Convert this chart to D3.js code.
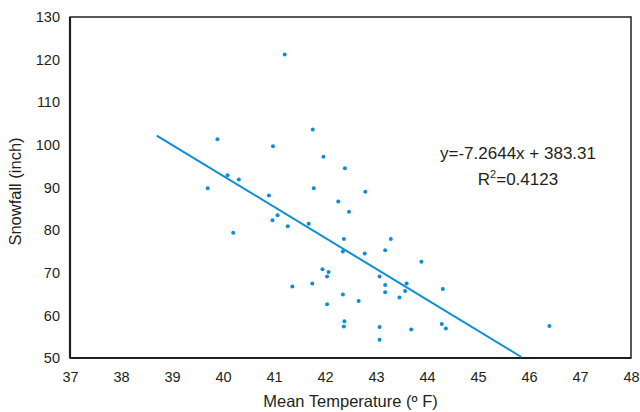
<!DOCTYPE html>
<html>
<head>
<meta charset="utf-8">
<script src="https://cdn.jsdelivr.net/npm/d3@7"></script>
<style>
  body { margin: 0; background: #fff; }
  text { font-family: "Liberation Sans", Arial, sans-serif; fill: #231f20; }
</style>
</head>
<body>
<div id="chart"></div>
<script>
const width = 640
const height = 412
const margin = { top: 17, right: 9, bottom: 54, left: 70 }

// mean temperature (F) and snowfall (inch)
const temps = [41.21, 41.76, 39.89, 40.98, 41.97, 42.39, 40.09, 40.31, 39.70, 41.78, 42.79, 40.90,
  42.26, 42.47, 41.07, 40.97, 41.27, 41.68, 40.20, 42.37, 42.35, 42.78, 43.18, 43.29, 41.95, 42.07,
  42.04, 43.07, 43.18, 43.18, 41.75, 41.36, 42.35, 42.66, 42.04, 43.46, 42.38, 42.37, 43.07, 43.07,
  43.89, 43.60, 43.57, 44.31, 43.69, 44.29, 44.37, 46.40]
const snowfall = [121.2, 103.6, 101.3, 99.7, 97.2, 94.5, 92.9, 91.9, 89.8, 89.8, 89.0, 88.1,
  86.7, 84.3, 83.5, 82.3, 80.9, 81.5, 79.4, 77.9, 75.0, 74.5, 75.3, 77.9, 70.8, 70.2,
  69.1, 69.1, 67.1, 65.4, 67.5, 66.8, 64.9, 63.4, 62.6, 64.2, 58.6, 57.4, 57.3, 54.3,
  72.6, 67.5, 65.7, 66.2, 56.7, 58.0, 56.9, 57.5]
const xTicks = [37, 38, 39, 40, 41, 42, 43, 44, 45, 46, 47, 48]
const yTicks = [50, 60, 70, 80, 90, 100, 110, 120, 130]
const slope = -7.2644
const intercept = 383.31
const trendRange = [38.7, 45.85]

const blue = '#0a8fd6'
const innerW = width - margin.left - margin.right
const innerH = height - margin.top - margin.bottom

const svg = d3.select('#chart').append('svg').attr('width', width).attr('height', height)
const g = svg.append('g').attr('transform', `translate(${margin.left}, ${margin.top})`)

const x = d3.scaleLinear().domain([37, 48]).range([0, innerW])
const y = d3.scaleLinear().domain([50, 130]).range([innerH, 0])

const xAxis = d3.axisBottom(x).tickValues(xTicks).tickSize(0).tickPadding(14)
const yAxis = d3.axisLeft(y).tickValues(yTicks).tickSize(0).tickPadding(10)

g.append('g').attr('transform', `translate(0, ${innerH})`).call(xAxis)
g.append('g').call(yAxis)
g.selectAll('.domain').remove()
g.selectAll('.tick text').attr('font-size', 14.5).style('fill', '#231f20')
  .attr('font-family', '"Liberation Sans", Arial, sans-serif')

// frame
g.append('rect').attr('width', innerW).attr('height', innerH)
  .attr('fill', 'none').attr('stroke', '#231f20').attr('stroke-width', 1.5)
g.append('line').attr('x1', 0).attr('x2', 0).attr('y1', 0).attr('y2', innerH)
  .attr('stroke', '#231f20').attr('stroke-width', 2.2)
g.append('line').attr('x1', 0).attr('x2', innerW).attr('y1', innerH).attr('y2', innerH)
  .attr('stroke', '#231f20').attr('stroke-width', 2.2)

// trend line
g.append('line')
  .attr('x1', x(trendRange[0])).attr('y1', y(slope * trendRange[0] + intercept))
  .attr('x2', x(trendRange[1])).attr('y2', y(slope * trendRange[1] + intercept))
  .attr('stroke', blue).attr('stroke-width', 2)

const points = temps.map((t, i) => ({ t, s: snowfall[i] }))
g.selectAll('circle.dot').data(points).enter().append('circle')
  .attr('class', 'dot')
  .attr('cx', d => x(d.t))
  .attr('cy', d => y(d.s))
  .attr('r', 2)
  .attr('fill', blue)

// equation
const eq = svg.append('text').attr('x', 518).attr('y', 159).attr('text-anchor', 'middle').attr('font-size', 17)
eq.text('y=-7.2644x + 383.31')
const r2 = svg.append('text').attr('x', 518).attr('y', 185).attr('text-anchor', 'middle').attr('font-size', 17)
r2.append('tspan').text('R')
r2.append('tspan').attr('font-size', 11).attr('dy', -7).text('2')
r2.append('tspan').attr('dy', 7).text('=0.4123')

// axis titles
svg.append('text').attr('x', margin.left + innerW / 2).attr('y', 407)
  .attr('text-anchor', 'middle').attr('font-size', 16.5).text('Mean Temperature (º F)')
svg.append('text').attr('transform', `translate(21, ${margin.top + innerH / 2 + 4}) rotate(-90)`)
  .attr('text-anchor', 'middle').attr('font-size', 16.5).text('Snowfall (inch)')
</script>
</body>
</html>
